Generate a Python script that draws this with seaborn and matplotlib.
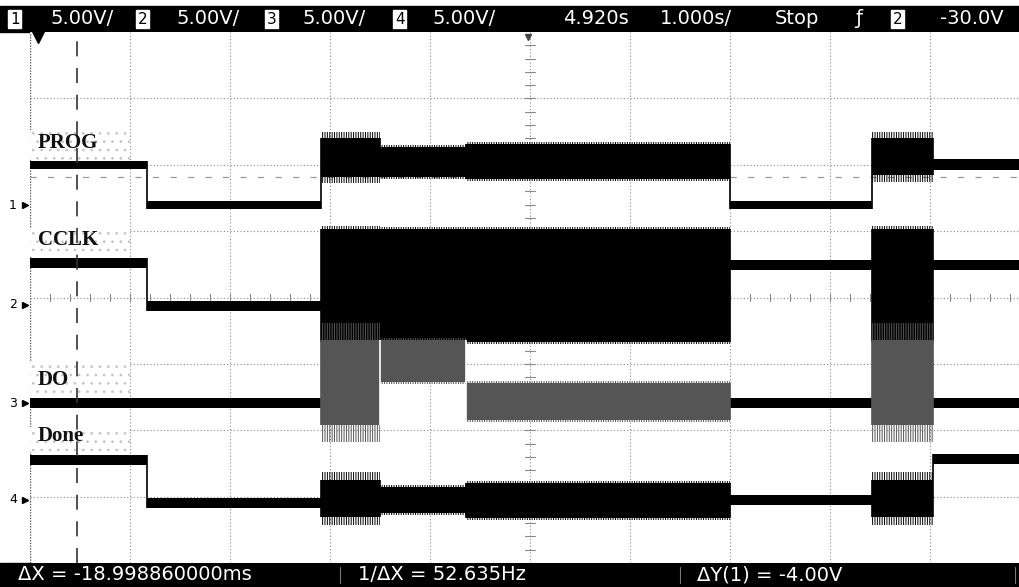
import numpy as np
import matplotlib
matplotlib.use("Agg")
import matplotlib.pyplot as plt
import seaborn as sns
from matplotlib.patches import Rectangle

# scope settings: 1 s/div, 8 vertical divisions, 0 = centre line
# phase boundaries in seconds from left edge of screen
edges = [0.0, 1.17, 2.91, 3.50, 4.36, 7.00, 8.42, 9.03, 9.89]

# trace levels (in divisions) for each phase: bottom / top of trace band
prog_lo = [1.93, 1.33, 1.81, 1.81, 1.78, 1.33, 1.84, 1.92]
prog_hi = [2.06, 1.45, 2.40, 2.27, 2.31, 1.45, 2.40, 2.08]
prog_noise = [0, 0, 0.09, 0.03, 0.03, 0, 0.10, 0]

cclk_lo = [0.44, -0.20, -0.67, -0.67, -0.67, 0.41, -0.67, 0.41]
cclk_hi = [0.59, -0.06, 1.03, 1.03, 1.03, 0.56, 1.03, 0.56]
cclk_noise = [0, 0, 0.05, 0.03, 0.03, 0, 0.05, 0]

do_lo = [-1.66, -1.66, -1.92, -1.27, -1.84, -1.66, -1.92, -1.66]
do_hi = [-1.51, -1.51, -0.64, -0.64, -1.29, -1.51, -0.64, -1.51]
do_noise = [0, 0, 0.25, 0.03, 0.03, 0, 0.25, 0]
do_gray = [False, False, True, True, True, False, True, False]

done_lo = [-2.52, -3.17, -3.31, -3.25, -3.32, -3.12, -3.31, -2.51]
done_hi = [-2.37, -3.02, -2.75, -2.85, -2.80, -2.97, -2.75, -2.36]
done_noise = [0, 0, 0.12, 0.03, 0.03, 0, 0.12, 0]

labels = ["PROG", "CCLK", "DO", "Done"]
label_y = [2.33, 0.87, -1.24, -2.09]
ground_y = [1.39, -0.11, -1.59, -3.05]

cursor_t = 0.47
cursor_v = 1.81

header = [(10, "1", True), (50, "5.00V/", False), (138, "2", True), (177, "5.00V/", False),
          (267, "3", True), (303, "5.00V/", False), (395, "4", True), (432, "5.00V/", False),
          (563, "4.920s", False), (660, "1.000s/", False), (775, "Stop", False),
          (855, "ƒ", False), (893, "2", True), (940, "-30.0V", False)]
footer = [(18, "ΔX = -18.998860000ms"), (358, "1/ΔX = 52.635Hz"), (697, "ΔY(1) = -4.00V")]

sns.set_theme(style="white")
plt.rcParams['font.family'] = ['DejaVu Sans']
plt.rcParams['hatch.linewidth'] = 0.7

W, H = 1019, 587
fig = plt.figure(figsize=(W / 100, H / 100), dpi=100)
ax = fig.add_axes([30 / W, (H - 563) / H, (W - 30) / W, (563 - 32) / H])
ax.set_xlim(0, 9.89)
ax.set_ylim(-4, 4)
ax.set_xticks([])
ax.set_yticks([])
for s in ax.spines.values():
    s.set_visible(False)

# graticule
gcol = "#8a8a8a"
for t in range(1, 10):
    ax.axvline(t, color=gcol, lw=0.8, ls=(0, (1, 2)), zorder=1)
for v in range(-3, 4):
    ax.axhline(v, color=gcol, lw=0.8, ls=(0, (1, 2)), zorder=1)
ax.axvline(0, color="#555555", lw=1.0, ls=(0, (1, 1)), zorder=1)
for t in np.arange(0.2, 9.89, 0.2):
    ax.plot([t, t], [-0.05, 0.05], color=gcol, lw=0.8, zorder=1)
for v in np.arange(-3.8, 4, 0.2):
    ax.plot([4.95, 5.05], [v, v], color=gcol, lw=0.8, zorder=1)

# label boxes (stippled)
box_top = [2.52, 1.05, -0.97, -1.95]
box_bot = [2.07, 0.61, -1.50, -2.33]
for name, y, top, bot in zip(labels, label_y, box_top, box_bot):
    ax.add_patch(Rectangle((0, bot), 1.0, top - bot, facecolor="white",
                           edgecolor="#c4c4c4", hatch="..", lw=0, zorder=2))
    ax.text(0.08, y, name, family="Liberation Serif", weight="bold",
            fontsize=15, color="#111111", va="center", ha="left", zorder=6)


def draw_trace(lo, hi, noise, shade=None):
    n = len(lo)
    shade = shade or [False] * n
    for i in range(n):
        t0, t1 = edges[i], edges[i + 1]
        col = "#555555" if shade[i] else "black"
        ax.fill_between([t0, t1], lo[i], hi[i], color=col, lw=0, zorder=4)
        if noise[i]:
            ax.fill_between([t0, t1], lo[i] - noise[i], hi[i] + noise[i],
                            facecolor="none", edgecolor=col, hatch="|||||||", lw=0, zorder=4)
    for i in range(1, n):
        a = min(lo[i - 1], lo[i])
        b = max(hi[i - 1], hi[i])
        col = "#555555" if (shade[i - 1] or shade[i]) else "black"
        if shade[i - 1] and shade[i]:
            col = "white"
        ax.vlines(edges[i], a, b, color=col, lw=1.2, zorder=4)


draw_trace(prog_lo, prog_hi, prog_noise)
draw_trace(cclk_lo, cclk_hi, cclk_noise)
draw_trace(do_lo, do_hi, do_noise, do_gray)
draw_trace(done_lo, done_hi, done_noise)

# cursors
ax.axvline(cursor_t, color="#333333", lw=1.2, ls=(0, (9, 7)), zorder=5)
ax.axhline(cursor_v, color="#9a9a9a", lw=0.9, ls=(0, (5, 9)), zorder=3)

# channel ground markers
for k, gy in enumerate(ground_y):
    ax.text(-0.17, gy, str(k + 1), fontsize=9, ha="center", va="center", color="black")
    ax.plot([-0.05], [gy], marker=">", ms=5, color="black", clip_on=False)

# status bars
fig.add_artist(Rectangle((0, 1 - 32 / H), 1, 26 / H, transform=fig.transFigure,
                         color="black", zorder=0))
fig.add_artist(Rectangle((0, 0), 1, 24 / H, transform=fig.transFigure,
                         color="black", zorder=0))
for x, txt, boxed in header:
    if boxed:
        fig.text(x / W, 1 - 19 / H, txt, fontsize=11, color="black", va="center",
                 ha="left", bbox=dict(boxstyle="square,pad=0.1", fc="white", ec="white"))
    else:
        fig.text(x / W, 1 - 19 / H, txt, fontsize=14, color="white", va="center", ha="left")
for x, txt in footer:
    fig.text(x / W, 12 / H, txt, fontsize=14, color="white", va="center", ha="left")
for x in [340, 680, 1015]:
    fig.add_artist(plt.Line2D([x / W, x / W], [4 / H, 20 / H], color="#777777", lw=0.8))

# time reference and trigger markers under the header
ax.plot([0.08], [3.93], marker="v", ms=8, color="black", clip_on=False)
ax.plot([4.98], [3.93], marker="v", ms=5, color="#444444", clip_on=False)

fig.savefig("out.png", dpi=100)
